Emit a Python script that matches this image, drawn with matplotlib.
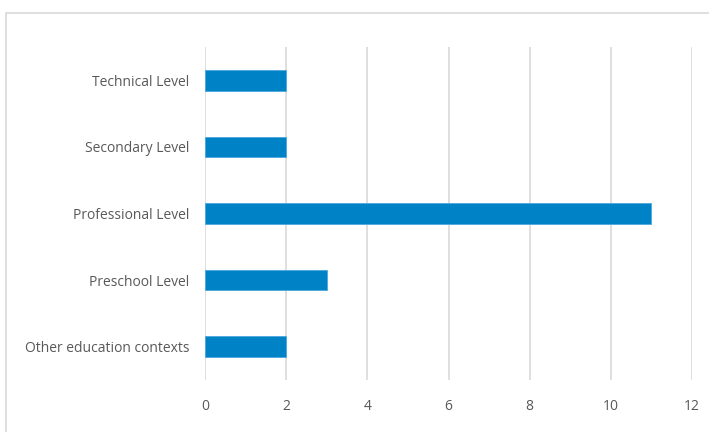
import matplotlib
matplotlib.use("Agg")
import matplotlib.pyplot as plt
from matplotlib.patches import Rectangle

categories = ["Other education contexts", "Preschool Level", "Professional Level",
              "Secondary Level", "Technical Level"]
values = [2, 3, 11, 2, 2]
xticks = [0, 2, 4, 6, 8, 10, 12]

W, H = 709, 432
fig = plt.figure(figsize=(W / 100, H / 100), dpi=100)
plt.rcParams['font.family'] = ['Open Sans', 'DejaVu Sans']

# outer chart border (extends past right/bottom edges)
fig.patches.append(Rectangle((6 / W, -0.1), 1.2, 1 - 13 / H + 0.1,
                             transform=fig.transFigure, fill=False,
                             edgecolor='#d9d9d9', linewidth=1.2))

ax = fig.add_axes([205 / W, 1 - 380 / H, (692 - 205) / W, (380 - 47) / H])
ax.barh(range(len(categories)), values, height=0.31, color='#0082c6',
        edgecolor='#4aa8dc', linewidth=0.6, zorder=3)
ax.set_xlim(0, 12)
ax.set_ylim(-0.5, len(categories) - 0.5)
ax.set_xticks(xticks)
ax.set_xticklabels([str(t) for t in xticks])
ax.set_yticks(range(len(categories)))
ax.set_yticklabels(categories)
ax.grid(axis='x', color='#d9d9d9', linewidth=1.2, zorder=0)
for s in ax.spines.values():
    s.set_visible(False)
ax.tick_params(axis='both', length=0, labelsize=10, colors='#595959')
ax.tick_params(axis='x', pad=14)
ax.tick_params(axis='y', pad=11)

fig.savefig("out.png", dpi=100)
